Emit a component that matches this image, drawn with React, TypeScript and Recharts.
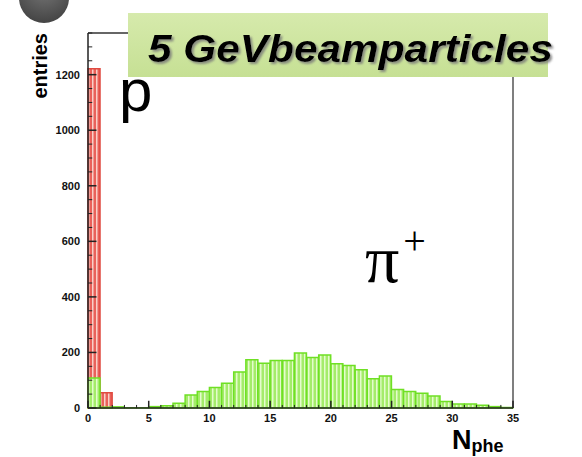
import React from "react";
import { BarChart, Bar, XAxis, YAxis, ReferenceLine } from "recharts";

// N_phe bins (width 1), entries per bin
const binCenters = [
  0.5, 1.5, 2.5, 3.5, 4.5, 5.5, 6.5, 7.5, 8.5, 9.5, 10.5, 11.5, 12.5, 13.5, 14.5, 15.5, 16.5, 17.5,
  18.5, 19.5, 20.5, 21.5, 22.5, 23.5, 24.5, 25.5, 26.5, 27.5, 28.5, 29.5, 30.5, 31.5, 32.5, 33.5, 34.5,
];
const protonCounts = [
  1221, 55, 0, 0, 0, 0, 0, 0, 0, 0, 0, 0, 0, 0, 0, 0, 0, 0,
  0, 0, 0, 0, 0, 0, 0, 0, 0, 0, 0, 0, 0, 0, 0, 0, 0,
];
const pionCounts = [
  108, 3, 4, 1, 1, 5, 8, 17, 47, 59, 74, 89, 130, 174, 161, 171, 171, 198,
  182, 191, 159, 153, 138, 105, 115, 67, 59, 53, 43, 23, 14, 14, 10, 5, 2,
];
const xTicks = [0, 5, 10, 15, 20, 25, 30, 35];
const yTicks = [0, 200, 400, 600, 800, 1000, 1200];
const xMinorTicks = Array.from({ length: 36 }, (_, i) => i);
const yMinorTicks = Array.from({ length: 28 }, (_, i) => i * 50);

const data = binCenters.map((x, i) => ({
  x,
  proton: protonCounts[i],
  pion: pionCounts[i],
}));

const font = "'Liberation Sans', Arial, sans-serif";
const tickStyle = { fontSize: 11, fontWeight: 700, fill: "#111", fontFamily: font };
const axisColor = "#222";

export default function App() {
  return (
    <div style={{ position: "absolute", left: 0, top: 0, width: 582, height: 457, background: "#fff" }}>
      <BarChart
        width={582}
        height={457}
        data={data}
        margin={{ top: 33, right: 69, bottom: 19, left: 40 }}
        barCategoryGap={0}
        barGap={0}
      >
        <defs>
          <pattern id="greenHatch" width="4" height="4" patternUnits="userSpaceOnUse">
            <rect width="4" height="4" fill="#a4ec6a" />
            <rect x="0" width="1.5" height="4" fill="#e4fccc" />
          </pattern>
          <pattern id="redHatch" width="4" height="4" patternUnits="userSpaceOnUse">
            <rect width="4" height="4" fill="#e9615a" />
            <rect x="0" width="1.5" height="4" fill="#f9cfc8" />
          </pattern>
        </defs>
        <XAxis xAxisId="red" type="number" dataKey="x" domain={[0, 35]} hide />
        <XAxis
          xAxisId="main"
          type="number"
          dataKey="x"
          domain={[0, 35]}
          ticks={xTicks}
          interval={0}
          height={30}
          tickSize={0}
          tickMargin={6}
          tickLine={false}
          axisLine={{ stroke: axisColor, strokeWidth: 1.5 }}
          tick={tickStyle}
        />
        <YAxis
          yAxisId="y"
          type="number"
          domain={[0, 1350]}
          ticks={yTicks}
          interval={0}
          width={48}
          tickSize={0}
          tickMargin={8}
          tickLine={false}
          axisLine={{ stroke: axisColor, strokeWidth: 1.5 }}
          tick={tickStyle}
        />
        <Bar
          xAxisId="red"
          yAxisId="y"
          dataKey="proton"
          fill="url(#redHatch)"
          stroke="#e04a40"
          strokeWidth={1.5}
          isAnimationActive={false}
        />
        <Bar
          xAxisId="main"
          yAxisId="y"
          dataKey="pion"
          fill="url(#greenHatch)"
          stroke="#6fe024"
          strokeWidth={1.5}
          isAnimationActive={false}
        />
        <ReferenceLine xAxisId="main" yAxisId="y" y={1350} stroke="#333" strokeWidth={1.5} />
        <ReferenceLine xAxisId="main" yAxisId="y" x={35} stroke="#555" strokeWidth={1.5} />
        {/* ROOT style inner tick marks */}
        {xMinorTicks.map((t) => (
          <ReferenceLine
            key={`xm${t}`}
            xAxisId="main"
            yAxisId="y"
            segment={[{ x: t, y: 0 }, { x: t, y: xTicks.includes(t) ? 26 : 11 }]}
            stroke={axisColor}
            strokeWidth={xTicks.includes(t) ? 1.5 : 1}
          />
        ))}
        {yMinorTicks.map((t) => (
          <ReferenceLine
            key={`ym${t}`}
            xAxisId="main"
            yAxisId="y"
            segment={[{ x: 0, y: t }, { x: yTicks.includes(t) ? 0.7 : 0.35, y: t }]}
            stroke={axisColor}
            strokeWidth={yTicks.includes(t) ? 1.5 : 1}
          />
        ))}
      </BarChart>
      <svg
        width={582}
        height={457}
        style={{ position: "absolute", left: 0, top: 0, pointerEvents: "none" }}
      >
        <defs>
          <linearGradient id="titleBg" x1="0" y1="0" x2="0" y2="1">
            <stop offset="0%" stopColor="#d6eaac" />
            <stop offset="100%" stopColor="#c6e094" />
          </linearGradient>
          <radialGradient id="blob" cx="0.5" cy="0.3" r="0.7">
            <stop offset="0%" stopColor="#777" />
            <stop offset="100%" stopColor="#444" />
          </radialGradient>
          <filter id="shadow" x="-5%" y="-20%" width="110%" height="140%">
            <feDropShadow dx="2" dy="2" stdDeviation="1" floodColor="#777" floodOpacity="0.8" />
          </filter>
        </defs>
        <circle cx={44} cy={-2} r={25} fill="url(#blob)" />
        <rect x={128} y={13} width={420} height={64} fill="url(#titleBg)" />
        <text
          x={148}
          y={62}
          fontFamily={font}
          fontSize={38}
          fontWeight={700}
          fontStyle="italic"
          fill="#000"
          textLength={405}
          lengthAdjust="spacingAndGlyphs"
          filter="url(#shadow)"
        >
          5 GeVbeamparticles
        </text>
        <text x={119} y={111} fontFamily={font} fontSize={60} fill="#000">
          p
        </text>
        <text x={365} y={282} fontFamily="'Liberation Serif', serif" fill="#000">
          <tspan fontSize={68}>π</tspan>
          <tspan fontSize={40} dx={4} dy={-28}>+</tspan>
        </text>
        <text
          transform="translate(47,33) rotate(-90)"
          textAnchor="end"
          fontFamily={font}
          fontSize={20}
          fontWeight={700}
          fill="#000"
        >
          entries
        </text>
        <text x={452} y={449} fontFamily={font} fontWeight={700} fill="#000">
          <tspan fontSize={27}>N</tspan>
          <tspan fontSize={18} dy={3}>phe</tspan>
        </text>
      </svg>
    </div>
  );
}
